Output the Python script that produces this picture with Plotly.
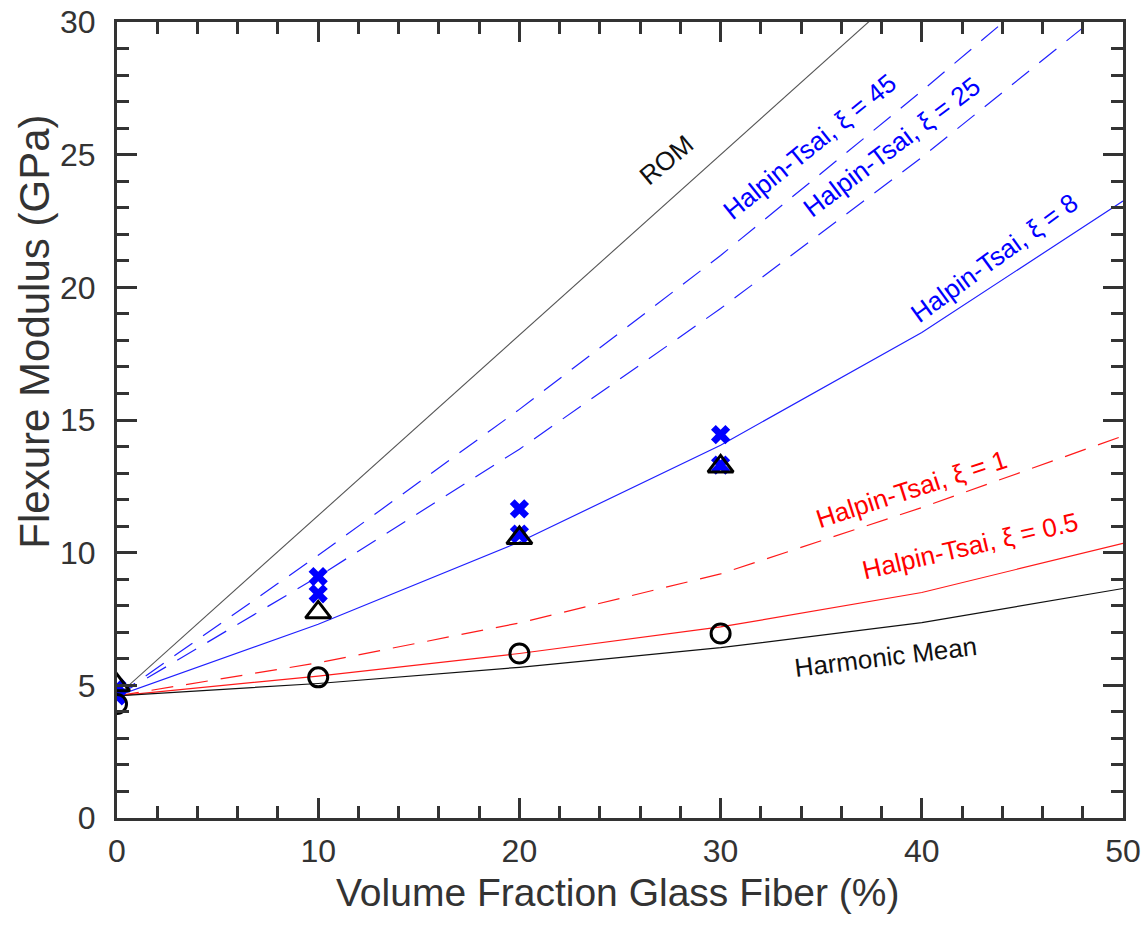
import plotly.graph_objects as go

# Volume fraction of glass fiber (%) for the model curves
vf = [0, 10, 20, 30, 40, 50]
rom = [4.6, 11.4, 18.2, 25.0, 31.8, 38.6]
ht45 = [4.6, 9.9, 15.4, 21.2, 27.4, 33.8]
ht25 = [4.6, 9.1, 13.9, 19.2, 24.9, 31.0]
ht8 = [4.6, 7.3, 10.4, 14.05, 18.3, 23.25]
ht1 = [4.6, 5.85, 7.35, 9.2, 11.7, 14.4]
ht05 = [4.6, 5.35, 6.2, 7.2, 8.5, 10.35]
harm = [4.6, 5.07, 5.68, 6.42, 7.36, 8.65]

# Measured data
x_cross = [0, 0, 10, 10, 20, 20, 30, 30]
y_cross = [4.9, 4.6, 9.1, 8.45, 11.65, 10.7, 14.45, 13.3]
x_tri = [0, 10, 20, 30]
y_tri = [5.0, 7.75, 10.55, 13.25]
x_circ = [0, 10, 20, 30]
y_circ = [4.3, 5.3, 6.2, 6.95]

FONT = "Liberation Sans, Arial, sans-serif"
BLUE = "#2020ff"
RED = "#ff1a1a"
AXC = "#333333"

fig = go.Figure()

def line(y, color, dash="solid", width=1.2):
    fig.add_trace(go.Scatter(x=vf, y=y, mode="lines",
                             line=dict(color=color, width=width, dash=dash),
                             showlegend=False, hoverinfo="skip"))

line(rom, "#555555", width=1.1)
line(ht45, BLUE, dash="22px,13px")
line(ht25, BLUE, dash="22px,13px")
line(ht8, BLUE)
line(ht1, RED, dash="22px,13px")
line(ht05, RED)
line(harm, "#111111")

fig.add_trace(go.Scatter(x=x_cross, y=y_cross, mode="markers",
                         marker=dict(symbol="x", size=17, color="#0000ff",
                                     line=dict(width=0)),
                         showlegend=False))
fig.add_trace(go.Scatter(x=x_tri, y=y_tri, mode="markers",
                         marker=dict(symbol="triangle-up-open", size=22,
                                     color="black", line=dict(width=3, color="black")),
                         showlegend=False))
fig.add_trace(go.Scatter(x=x_circ, y=y_circ, mode="markers",
                         marker=dict(symbol="circle-open", size=19,
                                     color="black", line=dict(width=3, color="black")),
                         showlegend=False))

labels = [
    ("ROM", 27.3, 24.8, -40, "#111111"),
    ("Halpin-Tsai, ξ = 45", 34.4, 25.3, -39, "#0000ff"),
    ("Halpin-Tsai, ξ = 25", 38.5, 25.3, -37, "#0000ff"),
    ("Halpin-Tsai, ξ = 8", 43.6, 21.1, -36, "#0000ff"),
    ("Halpin-Tsai, ξ = 1", 39.5, 12.4, -18, "#ff0000"),
    ("Halpin-Tsai, ξ = 0.5", 42.4, 10.25, -13, "#ff0000"),
    ("Harmonic Mean", 38.2, 6.07, -7, "#111111"),
]
for txt, x, y, ang, col in labels:
    fig.add_annotation(x=x, y=y, text=txt, showarrow=False, textangle=ang,
                       xanchor="center", yanchor="middle",
                       font=dict(family=FONT, size=26, color=col))

fig.add_annotation(x=-0.0815, y=0.611, xref="paper", yref="paper",
                   xanchor="center", yanchor="middle",
                   text="Flexure Modulus (GPa)", showarrow=False, textangle=-90,
                   font=dict(family=FONT, size=42, color=AXC))
fig.add_annotation(x=0.498, y=-0.0935, xref="paper", yref="paper",
                   xanchor="center", yanchor="middle",
                   text="Volume Fraction Glass Fiber (%)", showarrow=False,
                   font=dict(family=FONT, size=39, color=AXC))

axis_common = dict(
    showline=True, linecolor=AXC, linewidth=3, mirror="ticks",
    ticks="inside", ticklen=20, tickwidth=3, tickcolor=AXC,
    showgrid=False, zeroline=False, automargin=False,
    tickfont=dict(family=FONT, size=32, color=AXC),
)

fig.update_xaxes(range=[0, 50], dtick=10, tick0=0,
                 minor=dict(dtick=2, ticks="inside", ticklen=12, tickwidth=3,
                            tickcolor=AXC, showgrid=False),
                 ticklabelstandoff=3,
                 **axis_common)
fig.update_yaxes(range=[0, 30], dtick=5, tick0=0,
                 minor=dict(dtick=1, ticks="inside", ticklen=12, tickwidth=3,
                            tickcolor=AXC, showgrid=False),
                 ticklabelstandoff=12,
                 **axis_common)

fig.update_layout(
    width=1148, height=925,
    margin=dict(l=117, r=25, t=22, b=107, pad=0, autoexpand=False),
    plot_bgcolor="white", paper_bgcolor="white",
    font=dict(family=FONT),
    showlegend=False,
)

fig.write_html("out.html")
